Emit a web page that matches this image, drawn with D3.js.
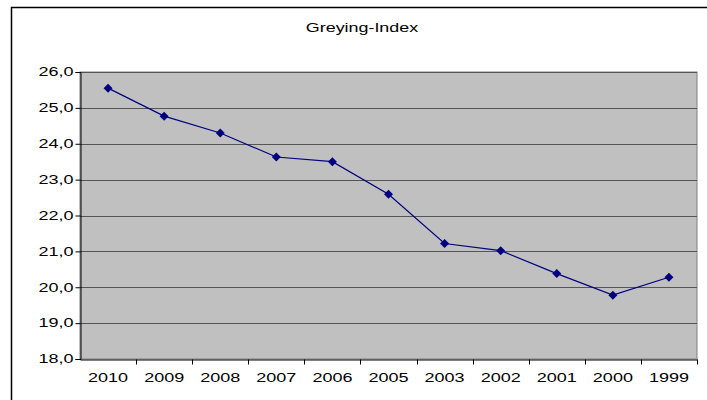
<!DOCTYPE html>
<html>
<head>
<meta charset="utf-8">
<script src="https://cdn.jsdelivr.net/npm/d3@7"></script>
<style>
  body { margin: 0; background: #fff; }
  svg { display: block; font-family: "Liberation Sans", Arial, sans-serif; }
</style>
</head>
<body>
<svg id="chart"></svg>
<script>
// DATOS
const years = ["2010", "2009", "2008", "2007", "2006", "2005", "2003", "2002", "2001", "2000", "1999"];
const values = [25.55, 24.77, 24.30, 23.63, 23.50, 22.59, 21.22, 21.02, 20.38, 19.78, 20.28];
const yTicks = [18, 19, 20, 21, 22, 23, 24, 25, 26];

const width = 707, height = 400;
const plot = { left: 80, top: 72, right: 697, bottom: 359 };

const svg = d3.select("#chart")
  .attr("width", width)
  .attr("height", height);

// texto ancho como en la imagen original
function stretch(sel, k) {
  sel.each(function () {
    const w = this.getComputedTextLength();
    this.setAttribute("textLength", w * k);
    this.setAttribute("lengthAdjust", "spacingAndGlyphs");
  });
}

// marco exterior
svg.append("rect")
  .attr("x", 11.5).attr("y", 7.5)
  .attr("width", 720).attr("height", 420)
  .attr("fill", "#fff")
  .attr("stroke", "#000")
  .attr("stroke-width", 1.5);

// titulo
svg.append("text")
  .attr("x", 362).attr("y", 32)
  .attr("text-anchor", "middle")
  .attr("font-size", 12.5)
  .text("Greying-Index")
  .call(stretch, 1.43);

// ESCALAS
const x = d3.scaleBand()
  .domain(years)
  .range([plot.left, plot.right]);

const y = d3.scaleLinear()
  .domain([18, 26])
  .range([plot.bottom, plot.top]);

// area del grafico
svg.append("rect")
  .attr("x", plot.left).attr("y", plot.top)
  .attr("width", plot.right - plot.left)
  .attr("height", plot.bottom - plot.top)
  .attr("fill", "#c0c0c0")
  .attr("stroke", "#808080")
  .attr("stroke-width", 1);

// rejilla
svg.append("g")
  .selectAll("line")
  .data(yTicks.slice(1))
  .join("line")
  .attr("x1", plot.left).attr("x2", plot.right)
  .attr("y1", d => Math.round(y(d)) + 0.5)
  .attr("y2", d => Math.round(y(d)) + 0.5)
  .attr("stroke", "#555")
  .attr("stroke-width", 1);

// eje Y
const yAxis = svg.append("g")
  .attr("transform", `translate(${plot.left + 0.5},0)`)
  .call(d3.axisLeft(y)
    .tickValues(yTicks)
    .tickSize(5)
    .tickPadding(2)
    .tickFormat(d => d3.format(".1f")(d).replace(".", ",")));
yAxis.select(".domain").attr("stroke", "#000");
yAxis.selectAll("text")
  .attr("font-size", 12).attr("fill", "#000")
  .attr("font-family", "Liberation Sans, Arial, sans-serif")
  .call(stretch, 1.5);

// eje X
const xAxis = svg.append("g")
  .attr("transform", `translate(0,${plot.bottom + 0.5})`)
  .call(d3.axisBottom(x).tickSize(0).tickPadding(14).tickSizeOuter(0));
xAxis.select(".domain").attr("stroke", "#000");
xAxis.selectAll("text")
  .attr("font-size", 12).attr("fill", "#000")
  .attr("font-family", "Liberation Sans, Arial, sans-serif")
  .call(stretch, 1.5);
// marcas entre categorias
xAxis.selectAll(".sep")
  .data(years)
  .join("line")
  .attr("class", "sep")
  .attr("x1", d => Math.round(x(d) + x.bandwidth()) + 0.5)
  .attr("x2", d => Math.round(x(d) + x.bandwidth()) + 0.5)
  .attr("y1", 0).attr("y2", 5)
  .attr("stroke", "#000");

// LINEA
const line = d3.line()
  .x((d, i) => x(years[i]) + x.bandwidth() / 2)
  .y(d => y(d));

svg.append("path")
  .datum(values)
  .attr("d", line)
  .attr("fill", "none")
  .attr("stroke", "#000080")
  .attr("stroke-width", 1.2);

// marcadores
svg.append("g")
  .selectAll("path")
  .data(values)
  .join("path")
  .attr("transform", (d, i) => `translate(${x(years[i]) + x.bandwidth() / 2},${y(d)})`)
  .attr("d", "M0,-4.5L4.5,0L0,4.5L-4.5,0Z")
  .attr("fill", "#000080");
</script>
</body>
</html>
